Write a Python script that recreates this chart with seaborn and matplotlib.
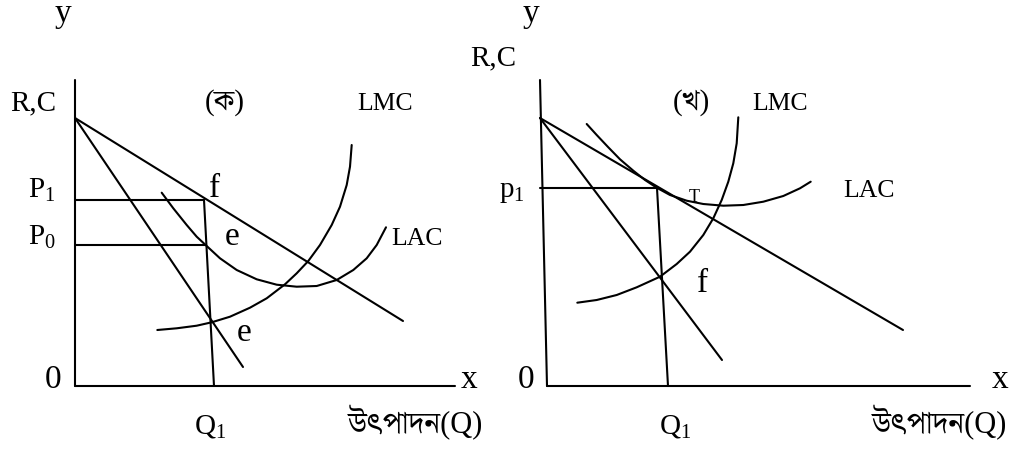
import matplotlib
matplotlib.use("Agg")
import matplotlib.pyplot as plt
from matplotlib import font_manager
from matplotlib.ft2font import FT2Font
import seaborn as sns
import pandas as pd

sns.set_theme(style="white")

# ---------------- data (quantity, price/cost units) ----------------
# Panel (ক)
a_yaxis_x = [0.0, 0.0]
a_yaxis_y = [30.6, 0.0]
a_xaxis_x = [0.0, 38.0]
a_xaxis_y = [0.0, 0.0]
a_ar_x = [0.0, 32.8]
a_ar_y = [26.8, 6.5]
a_mr_x = [0.0, 16.8]
a_mr_y = [26.8, 1.9]
a_p1_x = [0.0, 12.9]
a_p1_y = [18.6, 18.6]
a_p0_x = [0.0, 13.1]
a_p0_y = [14.1, 14.1]
a_q1_x = [12.9, 13.9]
a_q1_y = [18.6, 0.0]
a_lac_x = [8.67, 9.83, 11.17, 12.17, 13.17, 14.5, 16.17, 18.17, 20.17, 22.17,
           24.17, 26.17, 27.83, 29.17, 30.17, 31.1]
a_lac_y = [19.33, 17.77, 16.1, 14.93, 14.0, 12.77, 11.6, 10.67, 10.13, 9.93,
           10.0, 10.6, 11.6, 12.77, 14.1, 15.87]
a_lmc_x = [8.23, 10.17, 12.17, 13.67, 15.5, 17.5, 19.17, 21.0, 22.17, 23.33,
           24.5, 25.67, 26.5, 27.17, 27.5, 27.67]
a_lmc_y = [5.6, 5.77, 6.03, 6.37, 6.93, 7.83, 8.77, 10.17, 11.27, 12.5,
           14.1, 16.1, 17.93, 20.1, 21.93, 24.1]

# Panel (খ)
b_yaxis_x = [-0.7, 0.0]
b_yaxis_y = [30.6, 0.0]
b_xaxis_x = [0.0, 42.3]
b_xaxis_y = [0.0, 0.0]
b_ar_x = [-0.7, 35.6]
b_ar_y = [26.8, 5.6]
b_mr_x = [-0.7, 17.5]
b_mr_y = [26.8, 2.6]
b_p1_x = [-0.7, 11.0]
b_p1_y = [19.8, 19.8]
b_q1_x = [11.0, 12.1]
b_q1_y = [19.8, 0.0]
b_lac_x = [3.97, 4.97, 6.13, 7.3, 8.63, 9.8, 10.97, 12.3, 13.97, 15.63,
           17.63, 19.63, 21.63, 23.63, 25.3, 26.37]
b_lac_y = [26.2, 25.1, 23.87, 22.67, 21.53, 20.6, 19.83, 19.1, 18.53, 18.2,
           18.03, 18.1, 18.43, 19.0, 19.77, 20.43]
b_lmc_x = [3.03, 4.97, 6.97, 8.97, 11.3, 12.97, 14.3, 15.63, 16.63, 17.47,
           18.13, 18.63, 18.97, 19.13]
b_lmc_y = [8.33, 8.6, 9.1, 9.87, 10.93, 12.2, 13.43, 15.1, 16.77, 18.6,
           20.43, 22.27, 24.27, 26.87]

axis_x_label = "x"
axis_y_label = "y"
rc_label = "R,C"
output_label = "উৎপাদন(Q)"
panel_a_title = "(ক)"
panel_b_title = "(খ)"


# ---------------- fonts ----------------
def bengali_family():
    code = ord("ক")
    avail = {}
    paths = set(f.fname for f in font_manager.fontManager.ttflist)
    try:
        paths |= set(font_manager.findSystemFonts())
    except Exception:
        pass
    for p in sorted(paths):
        try:
            ft = FT2Font(p)
            if code in ft.get_charmap():
                avail.setdefault(ft.family_name, p)
        except Exception:
            pass
    prefs = ["Noto Serif Bengali", "Noto Sans Bengali", "FreeSerif", "Hind Siliguri",
             "Tiro Bangla", "Anek Bangla", "FreeSans"]
    for name in prefs + [n for n in avail if "Unifont" not in n] + list(avail):
        if name in avail:
            try:
                font_manager.fontManager.addfont(avail[name])
            except Exception:
                pass
            return [name]
    return []


FAMILIES = ['Liberation Serif'] + bengali_family() + ['DejaVu Sans']
plt.rcParams['font.family'] = FAMILIES
plt.rcParams['mathtext.fontset'] = 'custom'
plt.rcParams['mathtext.rm'] = 'Liberation Serif'
plt.rcParams['mathtext.it'] = 'Liberation Serif'

# ---------------- figure ----------------
W, H, DPI = 1014, 450, 100
fig = plt.figure(figsize=(W / DPI, H / DPI), dpi=DPI)
fig.patch.set_facecolor("white")

axL = fig.add_axes([0, 0, 0.5, 1])
axR = fig.add_axes([0.5, 0, 0.5, 1])
axL.set_xlim(-7.5, 43.2)
axR.set_xlim(-4.0, 46.7)
for ax in (axL, axR):
    ax.set_ylim(-6.4, 38.6)
    ax.axis("off")
    ax.patch.set_alpha(0)

LW = 1.5


def seg(ax, xs, ys):
    df = pd.DataFrame({"x": xs, "y": ys})
    sns.lineplot(data=df, x="x", y="y", ax=ax, sort=False, estimator=None,
                 color="black", linewidth=LW, legend=False)


for xs, ys in [(a_yaxis_x, a_yaxis_y), (a_xaxis_x, a_xaxis_y), (a_ar_x, a_ar_y),
               (a_mr_x, a_mr_y), (a_p1_x, a_p1_y), (a_p0_x, a_p0_y),
               (a_q1_x, a_q1_y), (a_lac_x, a_lac_y), (a_lmc_x, a_lmc_y)]:
    seg(axL, xs, ys)

for xs, ys in [(b_yaxis_x, b_yaxis_y), (b_xaxis_x, b_xaxis_y), (b_ar_x, b_ar_y),
               (b_mr_x, b_mr_y), (b_p1_x, b_p1_y), (b_q1_x, b_q1_y),
               (b_lac_x, b_lac_y), (b_lmc_x, b_lmc_y)]:
    seg(axR, xs, ys)

for ax in (axL, axR):
    ax.set_xlabel("")
    ax.set_ylabel("")


def lab(ax, ox, px, py, s, size, ha="center"):
    # px, py: pixel positions within the figure; converted to panel data units
    ax.text((px - ox) / 10.0, (386 - py) / 10.0, s, fontsize=size,
            ha=ha, va="baseline", color="black", clip_on=False,
            family=FAMILIES)


BIG = 24
MID = 21
SM = 18.5
RC = 21
BN = 22

# left panel labels
L0 = 75
lab(axL, L0, 63, 22, axis_y_label, BIG)
lab(axL, L0, 33, 110, rc_label, RC)
lab(axL, L0, 225, 110, panel_a_title, RC)
lab(axL, L0, 385, 110, "LMC", SM)
lab(axL, L0, 42, 198, r"P$_{1}$", MID)
lab(axL, L0, 42, 245, r"P$_{0}$", MID)
lab(axL, L0, 215, 197, "f", BIG)
lab(axL, L0, 232, 245, "e", BIG)
lab(axL, L0, 417, 245, "LAC", SM)
lab(axL, L0, 244, 341, "e", BIG)
lab(axL, L0, 53, 388, "0", BIG)
lab(axL, L0, 469, 388, axis_x_label, BIG)
lab(axL, L0, 210, 433, r"Q$_{1}$", MID)
lab(axL, L0, 416, 433, output_label, BN)

# right panel labels
R0 = 547
lab(axR, R0, 531, 22, axis_y_label, BIG)
lab(axR, R0, 493, 65, rc_label, RC)
lab(axR, R0, 691, 110, panel_b_title, RC)
lab(axR, R0, 780, 110, "LMC", SM)
lab(axR, R0, 512, 197, r"p$_{1}$", MID)
lab(axR, R0, 694, 202, "T", 13)
lab(axR, R0, 869, 197, "LAC", SM)
lab(axR, R0, 703, 292, "f", BIG)
lab(axR, R0, 526, 388, "0", BIG)
lab(axR, R0, 1000, 388, axis_x_label, BIG)
lab(axR, R0, 675, 433, r"Q$_{1}$", MID)
lab(axR, R0, 940, 433, output_label, BN)

fig.savefig("out.png", dpi=DPI, facecolor="white")
